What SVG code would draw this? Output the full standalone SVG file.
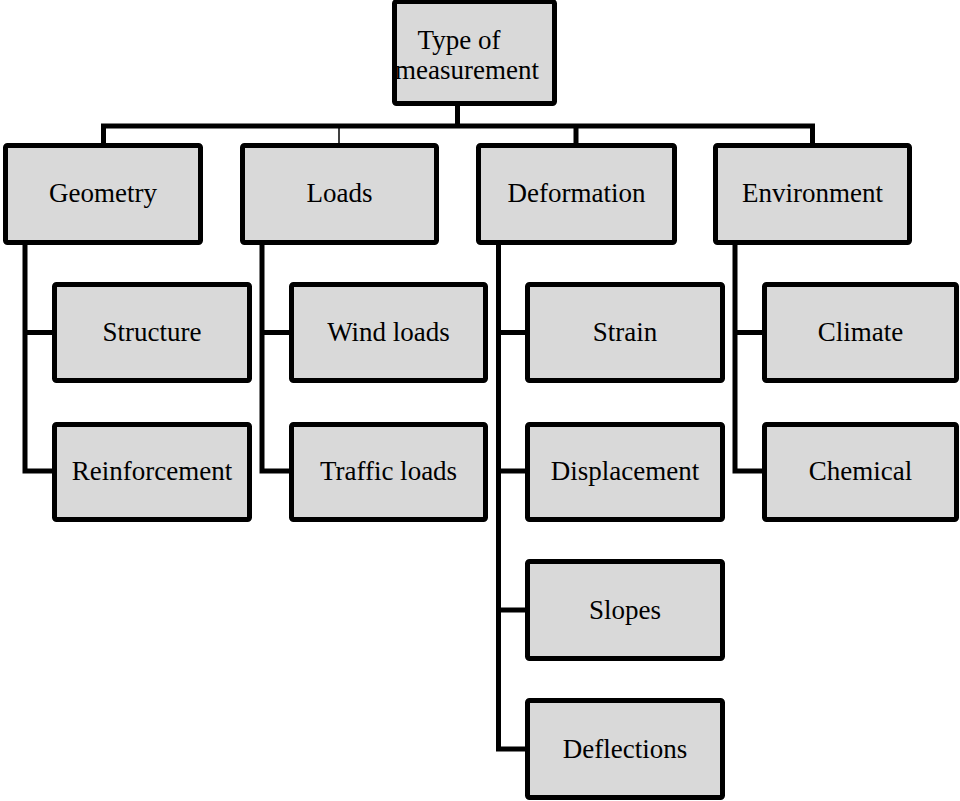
<svg xmlns="http://www.w3.org/2000/svg" width="960" height="801" viewBox="0 0 960 801">
<style>
.box{fill:#d9d9d9;stroke:#000;stroke-width:5;stroke-linejoin:round}
.lbl{font-family:"Liberation Serif","DejaVu Serif",serif;font-size:27px;fill:#000;text-anchor:middle}
.ln{fill:none;stroke:#000;stroke-width:5;stroke-linejoin:miter}
.thin{fill:none;stroke:#000;stroke-width:1.5}
</style>
<rect width="960" height="801" fill="#fff"/>
<g id="connectors">
<path class="ln" d="M457.5,106 V126 M101,126 H815 M103.5,126 V143 M576,126 V143 M812.5,126 V143"/>
<path class="thin" d="M339,126 V143"/>
<path class="ln" d="M25,245 V471 H52 M25,332.5 H52"/>
<path class="ln" d="M262,245 V471 H289 M262,332.5 H289"/>
<path class="ln" d="M498.5,245 V749 H525 M498.5,332.5 H525 M498.5,471 H525 M498.5,610 H525"/>
<path class="ln" d="M735,245 V471 H762 M735,332.5 H762"/>
</g>
<g id="n-top"><rect class="box" x="394.5" y="1.5" width="160" height="102" rx="2"/><text class="lbl" x="459" y="49">Type of</text><text class="lbl" x="467" y="79">measurement</text></g>
<g id="n-geometry"><rect class="box" x="5.5" y="145.5" width="195" height="97" rx="2"/><text class="lbl" x="103" y="202">Geometry</text></g>
<g id="n-loads"><rect class="box" x="242.5" y="145.5" width="194" height="97" rx="2"/><text class="lbl" x="339.5" y="202">Loads</text></g>
<g id="n-deformation"><rect class="box" x="478.5" y="145.5" width="196" height="97" rx="2"/><text class="lbl" x="576.5" y="202">Deformation</text></g>
<g id="n-environment"><rect class="box" x="715.5" y="145.5" width="194" height="97" rx="2"/><text class="lbl" x="812.5" y="202">Environment</text></g>
<g id="n-structure"><rect class="box" x="54.5" y="284.5" width="195" height="96" rx="2"/><text class="lbl" x="152" y="341">Structure</text></g>
<g id="n-reinforcement"><rect class="box" x="54.5" y="424.5" width="195" height="95" rx="2"/><text class="lbl" x="152" y="480">Reinforcement</text></g>
<g id="n-wind"><rect class="box" x="291.5" y="284.5" width="194" height="96" rx="2"/><text class="lbl" x="388.5" y="341">Wind loads</text></g>
<g id="n-traffic"><rect class="box" x="291.5" y="424.5" width="194" height="95" rx="2"/><text class="lbl" x="388.5" y="480">Traffic loads</text></g>
<g id="n-strain"><rect class="box" x="527.5" y="284.5" width="195" height="96" rx="2"/><text class="lbl" x="625" y="341">Strain</text></g>
<g id="n-displacement"><rect class="box" x="527.5" y="424.5" width="195" height="95" rx="2"/><text class="lbl" x="625" y="480">Displacement</text></g>
<g id="n-slopes"><rect class="box" x="527.5" y="561.5" width="195" height="97" rx="2"/><text class="lbl" x="625" y="619">Slopes</text></g>
<g id="n-deflections"><rect class="box" x="527.5" y="700.5" width="195" height="97" rx="2"/><text class="lbl" x="625" y="758">Deflections</text></g>
<g id="n-climate"><rect class="box" x="764.5" y="284.5" width="192" height="96" rx="2"/><text class="lbl" x="860.5" y="341">Climate</text></g>
<g id="n-chemical"><rect class="box" x="764.5" y="424.5" width="192" height="95" rx="2"/><text class="lbl" x="860.5" y="480">Chemical</text></g>
</svg>
